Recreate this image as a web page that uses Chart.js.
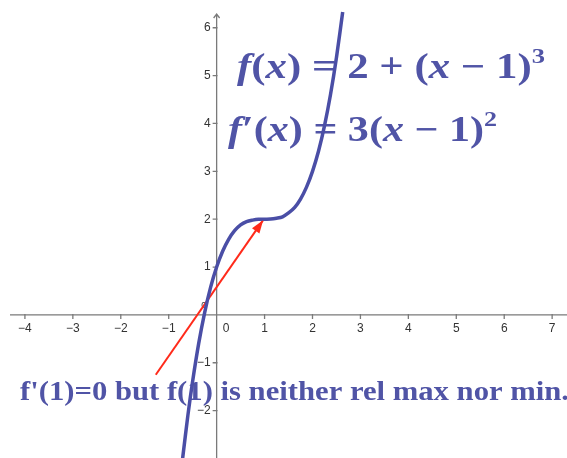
<!DOCTYPE html>
<html>
<head>
<meta charset="utf-8">
<script src="https://cdn.jsdelivr.net/npm/chart.js@4.4.1/dist/chart.umd.min.js"></script>
<style>
  html, body { margin: 0; padding: 0; background: #fff; }
  #wrap { width: 567px; height: 458px; }
</style>
</head>
<body>
<div id="wrap"><canvas id="graph" width="567" height="458"></canvas></div>
<script>
// curve f(x) = 2 + (x-1)^3
const curveX = [-0.71, -0.6, -0.5, -0.375, -0.25, -0.125, 0, 0.125, 0.25, 0.375, 0.5, 0.625, 0.75, 0.875, 1,
                1.125, 1.25, 1.375, 1.5, 1.625, 1.75, 1.875, 2, 2.125, 2.25, 2.375, 2.5, 2.63];
const curveY = [-3.0, -2.1, -1.38, -0.6, 0.05, 0.58, 1.0, 1.33, 1.58, 1.76, 1.88, 1.95, 1.98, 1.998, 2.0,
                2.002, 2.02, 2.05, 2.13, 2.24, 2.42, 2.67, 3.0, 3.42, 3.95, 4.6, 5.38, 6.33];

// red arrow (tail -> head)
const arrowX = [-1.27, 0.97];
const arrowY = [-1.25, 1.98];

// axis ticks
const xTicks = [-4, -3, -2, -1, 1, 2, 3, 4, 5, 6, 7];
const yTicks = [-2, -1, 1, 2, 3, 4, 5, 6];

const labelColor = '#5054a6';
const curveColor = '#4a4ea6';

function drawRuns(ctx, runs, x, base, size, targetW) {
  const font = (r, s) => (r.it ? 'italic ' : '') + 'bold ' + s + 'px "Liberation Serif", serif';
  let w = 0;
  runs.forEach(r => {
    ctx.font = font(r, r.sup ? size * 0.62 : size);
    w += ctx.measureText(r.t).width;
  });
  ctx.save();
  ctx.translate(x, base);
  ctx.scale(targetW / w, 1);
  let cx = 0;
  runs.forEach(r => {
    ctx.font = font(r, r.sup ? size * 0.62 : size);
    ctx.fillText(r.t, cx, r.sup ? -size * 0.42 : 0);
    cx += ctx.measureText(r.t).width;
  });
  ctx.restore();
}

const decor = {
  id: 'decor',
  beforeDatasetsDraw(chart) {
    const ctx = chart.ctx;
    const xs = chart.scales.x, ys = chart.scales.y;
    const ox = xs.getPixelForValue(0), oy = ys.getPixelForValue(0);

    // texts (under the curve)
    ctx.fillStyle = labelColor;
    ctx.textAlign = 'left';
    ctx.textBaseline = 'alphabetic';
    drawRuns(ctx, [
      {t: 'f', it: true}, {t: '('}, {t: 'x', it: true}, {t: ') = 2 + ('}, {t: 'x', it: true},
      {t: ' \u2212 1)'}, {t: '3', sup: true}
    ], 237, 78, 35, 308);
    drawRuns(ctx, [
      {t: 'f', it: true}, {t: '\u2032('}, {t: 'x', it: true}, {t: ') = 3('}, {t: 'x', it: true},
      {t: ' \u2212 1)'}, {t: '2', sup: true}
    ], 228, 141, 35, 269);
    drawRuns(ctx, [{t: "f'(1)=0 but f(1) is neither rel max nor min."}], 20, 400, 27, 549);

    // axes
    ctx.save();
    ctx.strokeStyle = '#7a7a7a';
    ctx.lineWidth = 1.3;
    ctx.beginPath();
    ctx.moveTo(10, oy); ctx.lineTo(chart.width, oy);
    ctx.moveTo(ox, 14); ctx.lineTo(ox, chart.height);
    // arrow on y axis
    ctx.moveTo(ox - 3, 18); ctx.lineTo(ox, 14); ctx.lineTo(ox + 3, 18);
    xTicks.forEach(v => {
      const p = xs.getPixelForValue(v);
      ctx.moveTo(p, oy - 1); ctx.lineTo(p, oy + 4);
    });
    yTicks.forEach(v => {
      const p = ys.getPixelForValue(v);
      ctx.moveTo(ox - 4, p); ctx.lineTo(ox + 1, p);
    });
    ctx.stroke();

    ctx.fillStyle = '#333';
    ctx.font = '12px "Liberation Sans", Arial, sans-serif';
    ctx.textBaseline = 'middle';
    ctx.textAlign = 'center';
    xTicks.forEach(v => {
      const lbl = v < 0 ? '\u2212' + (-v) : String(v);
      ctx.fillText(lbl, xs.getPixelForValue(v), oy + 14);
    });
    ctx.textAlign = 'left';
    ctx.fillText('0', ox + 6, oy + 14);
    ctx.textAlign = 'right';
    yTicks.forEach(v => {
      const lbl = v < 0 ? '\u2212' + (-v) : String(v);
      ctx.fillText(lbl, ox - 6, ys.getPixelForValue(v));
    });
    ctx.font = '9px "Liberation Sans", sans-serif';
    ctx.textAlign = 'center';
    ctx.fillText('0', ox - 13, oy - 9);
    ctx.restore();
  },
  afterDatasetsDraw(chart) {
    // arrow head at the end of the red line
    const ctx = chart.ctx;
    const xs = chart.scales.x, ys = chart.scales.y;
    const x0 = xs.getPixelForValue(arrowX[0]), y0 = ys.getPixelForValue(arrowY[0]);
    const x1 = xs.getPixelForValue(arrowX[1]), y1 = ys.getPixelForValue(arrowY[1]);
    const a = Math.atan2(y1 - y0, x1 - x0);
    const len = 13, half = 4.5;
    ctx.save();
    ctx.fillStyle = '#ff2a1a';
    ctx.beginPath();
    ctx.moveTo(x1, y1);
    ctx.lineTo(x1 - len * Math.cos(a) + half * Math.sin(a), y1 - len * Math.sin(a) - half * Math.cos(a));
    ctx.lineTo(x1 - len * Math.cos(a) - half * Math.sin(a), y1 - len * Math.sin(a) + half * Math.cos(a));
    ctx.closePath();
    ctx.fill();
    ctx.restore();
  }
};

const ctx = document.getElementById('graph').getContext('2d');
new Chart(ctx, {
  type: 'scatter',
  data: {
    datasets: [
      {
        data: curveX.map((x, i) => ({x: x, y: curveY[i]})),
        showLine: true,
        borderColor: curveColor,
        borderWidth: 3.5,
        pointRadius: 0,
        tension: 0.3,
        fill: false
      },
      {
        data: arrowX.map((x, i) => ({x: x, y: arrowY[i]})),
        showLine: true,
        borderColor: '#ff2a1a',
        borderWidth: 2,
        pointRadius: 0
      }
    ]
  },
  options: {
    responsive: false,
    animation: false,
    layout: { padding: 0 },
    plugins: { legend: { display: false }, tooltip: { enabled: false } },
    scales: {
      x: { type: 'linear', min: -4.52, max: 7.31, display: false },
      y: { type: 'linear', min: -2.99, max: 6.58, display: false }
    }
  },
  plugins: [decor]
});
</script>
</body>
</html>
